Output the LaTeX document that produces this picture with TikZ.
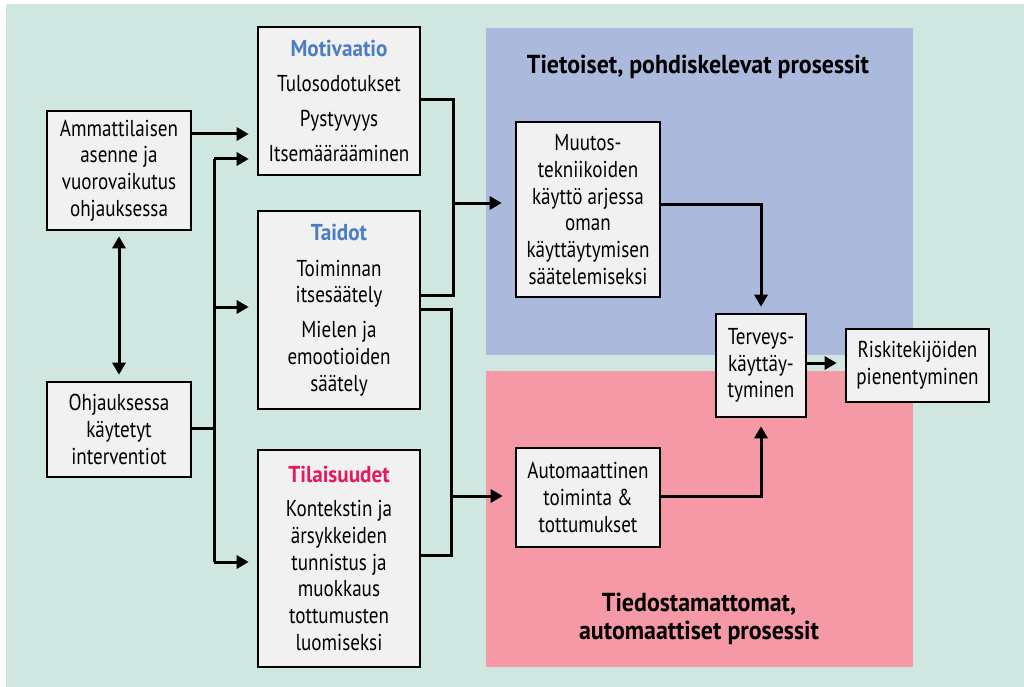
\documentclass[tikz,border=0pt]{standalone}
\usepackage{fontspec}
\setmainfont{PT Sans}[FakeStretch=0.83]
\newfontfamily\hdfont{PT Sans}[FakeStretch=0.92]
\usetikzlibrary{arrows.meta}
\definecolor{bggreen}{HTML}{D0E6E0}
\definecolor{blueregion}{HTML}{AAB9DC}
\definecolor{pinkregion}{HTML}{F599A6}
\definecolor{boxfill}{HTML}{F1F1F1}
\definecolor{tblue}{HTML}{4C7DC3}
\definecolor{tred}{HTML}{E5195E}
\begin{document}
\begin{tikzpicture}[x=1pt,y=-1pt,
  box/.style={draw=black, line width=2.6pt, fill=boxfill, align=center, inner sep=0pt,
    font=\fontsize{23}{26.7}\selectfont},
  region/.style={font=\hdfont\fontsize{26}{28}\selectfont\bfseries, align=center},
  tip/.style={-{Triangle[length=12pt,width=13pt]}},
  conn/.style={line width=3pt, tip},
  wire/.style={line width=3pt}]
\useasboundingbox (0,0) rectangle (1024,687);
\fill[bggreen] (6,4) rectangle (1024,687);
\fill[blueregion] (486,28) rectangle (913,355);
\fill[pinkregion] (486,371) rectangle (913,667);
\node[region] (rtop) at (698,67) {Tietoiset, pohdiskelevat prosessit};
\node[region] (rbot) at (699,619) {Tiedostamattomat,\\automaattiset prosessit};

\node[box, minimum width=144pt, minimum height=119pt] (amm) at (119,170.5)
  {Ammattilaisen\\asenne ja\\vuorovaikutus\\ohjauksessa};
\node[box, minimum width=144pt, minimum height=95pt] (ohj) at (119,429.5)
  {Ohjauksessa\\käytetyt\\interventiot};
\node[box, minimum width=162pt, minimum height=148pt] (mot) at (339,101)
  {\textcolor{tblue}{\hdfont\bfseries Motivaatio}\\[8pt]Tulosodotukset\\[8pt]Pystyvyys\\[8pt]Itsemäärääminen};
\node[box, minimum width=162pt, minimum height=198pt] (tai) at (339,310)
  {\textcolor{tblue}{\hdfont\bfseries Taidot}\\[9pt]Toiminnan\\itsesäätely\\[8pt]Mielen ja\\emootioiden\\säätely};
\node[box, minimum width=162pt, minimum height=217pt] (til) at (339,558.5)
  {\textcolor{tred}{\hdfont\bfseries Tilaisuudet}\\[7pt]Kontekstin ja\\ärsykkeiden\\tunnistus ja\\muokkaus\\tottumusten\\luomiseksi};
\node[box, minimum width=144pt, minimum height=175pt] (muu) at (588,209.5)
  {Muutos-\\tekniikoiden\\käyttö arjessa\\oman\\käyttäytymisen\\säätelemiseksi};
\node[box, minimum width=144pt, minimum height=99pt] (aut) at (588,497.5)
  {Automaattinen\\toiminta \&\\tottumukset};
\node[box, minimum width=90pt, minimum height=103pt] (ter) at (761,365.5)
  {Terveys-\\käyttäy-\\tyminen};
\node[box, minimum width=143pt, minimum height=73pt] (ris) at (917.5,365.5)
  {Riskitekijöiden\\pienentyminen};

% left side
\draw[line width=3pt, {Triangle[length=12pt,width=13pt]}-{Triangle[length=12pt,width=13pt]},
  shorten <=5pt, shorten >=6pt] (amm.south) -- (ohj.north);
\draw[conn, shorten >=8pt] (amm.east |- 0,134) -- (mot.west |- 0,134);
\coordinate (bus) at (214,428);
\draw[wire] (ohj.east |- bus) -- (bus);
\draw[wire] (bus |- 0,159) -- (bus |- 0,562);
\draw[conn, shorten >=8pt] (bus |- 0,159) -- (mot.west |- 0,159);
\draw[conn, shorten >=8pt] (bus |- 0,307) -- (tai.west |- 0,307);
\draw[conn, shorten >=8pt] (bus |- 0,562) -- (til.west |- 0,562);

% middle
\coordinate (j1) at (453,203);
\coordinate (j2) at (451,496);
\draw[wire, line join=miter] (mot.east |- 0,100) -- (j1 |- 0,100) -- (j1 |- 0,295) -- (tai.east |- 0,295);
\draw[conn, shorten >=13pt] (j1) -- (muu.west |- j1);
\draw[wire, line join=miter] (tai.east |- 0,309) -- (j2 |- 0,309) -- (j2 |- 0,555) -- (til.east |- 0,555);
\draw[conn, shorten >=12pt] (j2) -- (aut.west |- j2);

% right
\draw[conn, line join=miter, shorten >=6pt] (muu.east |- 0,204) -| (ter.north);
\draw[conn, line join=miter, shorten >=8pt] (aut.east |- 0,496) -| (ter.south);
\draw[conn, shorten >=8pt] (ter.east |- 0,363) -- (ris.west |- 0,363);
\end{tikzpicture}
\end{document}
